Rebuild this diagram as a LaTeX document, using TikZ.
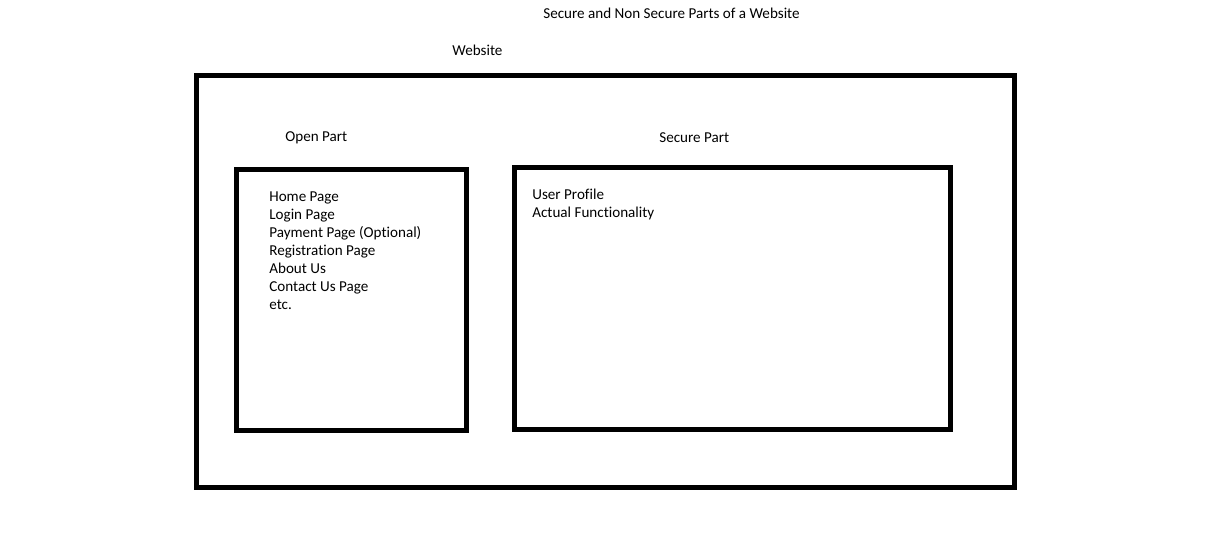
\documentclass[tikz,border=0pt]{standalone}
\usepackage{fontspec}
\setmainfont{Carlito}[Ligatures=NoCommon]
\usetikzlibrary{positioning}

\begin{document}
\begin{tikzpicture}[
    x=0.02cm, y=-0.02cm,
    every node/.style={font=\fontsize{8.6}{10}\selectfont},
    frame/.style={draw, line width=0.1cm, inner sep=0pt, outer sep=0pt},
    label/.style={anchor=base west, inner sep=0pt},
    item/.style={anchor=base west, inner sep=0pt}
]
\useasboundingbox (0,0) rectangle (1230,545);

% titel en website
\node[label] (title) at (543,18) {Secure and Non Secure Parts of a Website};
\node[label] (website) at (452,55) {Website};

% kaders
\node[frame, minimum width=16.36cm, minimum height=8.24cm] (site) at (605.5,281.5) {};
\node[frame, minimum width=4.6cm, minimum height=5.24cm] (open) at (351.5,300) {};
\node[frame, minimum width=8.73cm, minimum height=5.26cm] (secure) at (732.75,298.5) {};

% koppen
\node[label] (openlbl) at (285,141) {Open Part};
\node[label] (securelbl) at (659,142) {Secure Part};

% open deel
\foreach \t [count=\i] in {Home Page, Login Page, Payment Page (Optional),
    Registration Page, About Us, Contact Us Page, etc.}
  \node[item] (open\i) at (269,183+18*\i) {\t};

% beveiligd deel
\node[item] (secure1) at (532,199) {User Profile};
\node[item] (secure2) at (532,217) {Actual Functionality};

\end{tikzpicture}
\end{document}
